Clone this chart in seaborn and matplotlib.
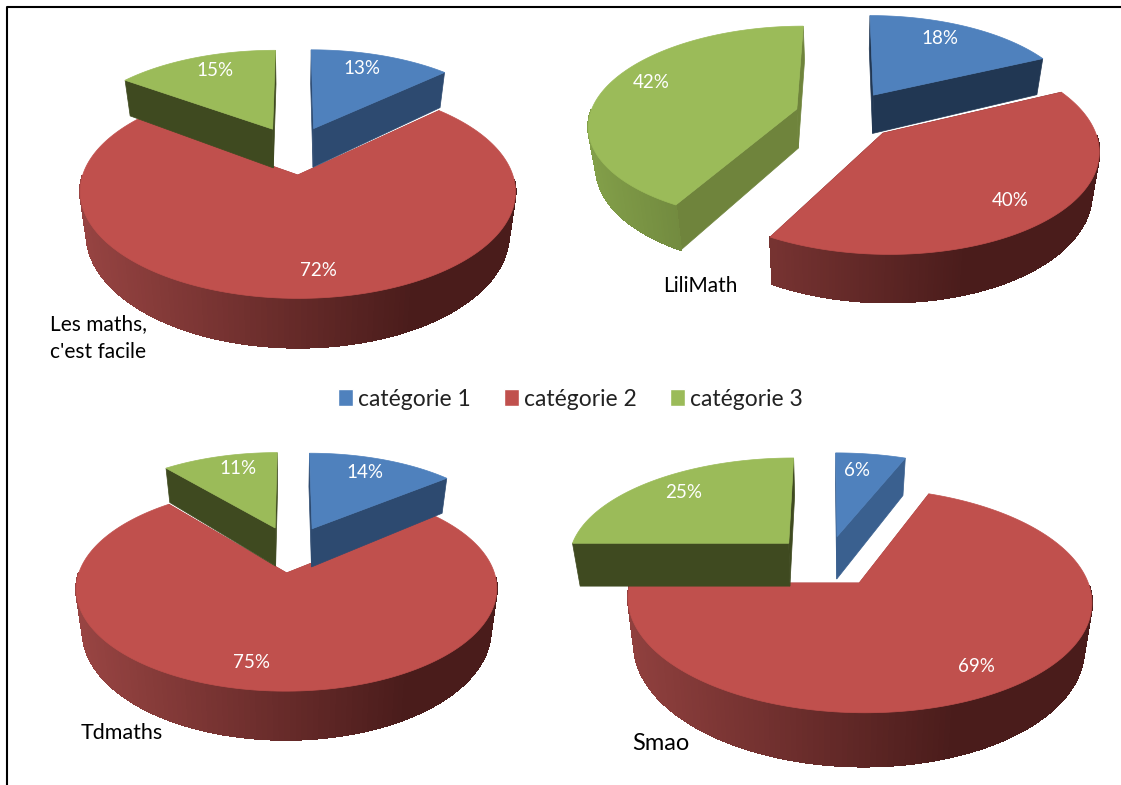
import matplotlib
matplotlib.use('Agg')
import matplotlib.pyplot as plt
from matplotlib.patches import Patch
from matplotlib.colors import to_rgb
import seaborn as sns
import numpy as np

categories = ['catégorie 1', 'catégorie 2', 'catégorie 3']
lesmaths = [13, 72, 15]
lilimath = [18, 40, 42]
tdmaths = [14, 75, 11]
smao = [6, 69, 25]

sns.set_theme(style='white')
plt.rcParams['font.family'] = ['Lato', 'DejaVu Sans']

colors = sns.color_palette(['#4f81bd', '#c0504d', '#9bbb59'])
rim_light = ['#5a86bd', '#a34a48', '#84a14a']
rim_dark = ['#223a58', '#4a1c1b', '#3f4a20']


def project(u, v, z, p):
    s = 1 / (1 - p['k'] * v)
    # the underside is a bit narrower than the top
    return p['cx'] + p['A'] * u * s * (1 - 0.03 * z), p['cy'] + p['B'] * v * s + p['h'] * z * s


def draw_pie(ax, values, p, wall_colors):
    frac = np.cumsum([0] + values) / sum(values) * 2 * np.pi
    mids = (frac[:-1] + frac[1:]) / 2
    # far slices first, so the near ones paint over them
    order = np.argsort(-np.cos(mids))[::-1]
    xl, xr = p['cx'] - p['A'] * 1.3, p['cx'] + p['A'] * 1.3
    for i in order:
        a0, a1, mid = frac[i], frac[i + 1], mids[i]
        du, dv = p['ex'] * np.sin(mid), -p['ey'] * np.cos(mid)
        th = np.linspace(a0, a1, 200)
        u = np.sin(th) + du
        v = -np.cos(th) + dv
        x0, y0 = project(u, v, 0, p)
        x1, y1 = project(u, v, 1, p)
        ax_, ay_ = project(du, dv, 0, p)
        bx_, by_ = project(du, dv, 1, p)
        # cut walls
        for k in [0, -1]:
            ax.fill([ax_, x0[k], x1[k], bx_], [ay_, y0[k], y1[k], by_],
                    color=wall_colors[i], lw=0.5, zorder=p['z'] + 1)
        # rim, front part only, shaded left to right
        light = np.array(to_rgb(rim_light[i]))
        dark = np.array(to_rgb(rim_dark[i]))
        for j in range(len(th) - 1):
            if -np.cos(th[j]) < 0.02:
                continue
            t = min(((x0[j] + x0[j + 1]) / 2 - xl) / (xr - xl) / 0.72, 1)
            c = light + (dark - light) * max(t, 0)
            ax.fill([x0[j], x0[j + 1], x1[j + 1], x1[j]], [y0[j], y0[j + 1], y1[j + 1], y1[j]],
                    color=c, lw=0.8, antialiased=False, zorder=p['z'] + 1)
        # the top
        ax.fill(np.r_[ax_, x0], np.r_[ay_, y0], color=colors[i], lw=0.5, zorder=p['z'] + 1)
        p['z'] += 2


fig = plt.figure(figsize=(11.21, 7.85), dpi=100)
ax = fig.add_axes([0, 0, 1, 1])
ax.set_xlim(0, 1121)
ax.set_ylim(785, 0)
ax.axis('off')

ax.plot([7, 7, 1121], [785, 6.5, 6.5], color='black', lw=1.5)

pie1 = dict(cx=294.5, cy=150, A=207, B=96.5, ex=0.24, ey=0.25, k=0.15, h=40, z=2)
pie2 = dict(cx=846.5, cy=115, A=207, B=97, ex=0.25, ey=0.25, k=0.15, h=39.5, z=2)
pie3 = dict(cx=291.5, cy=549, A=200, B=92.5, ex=0.25, ey=0.25, k=0.15, h=39.5, z=2)
pie4 = dict(cx=827, cy=561, A=222, B=103, ex=0.25, ey=0.25, k=0.15, h=44, z=2)

dark_green = '#3f4a20'
draw_pie(ax, lesmaths, pie1, ['#2d4a70', '#a34a48', dark_green])
draw_pie(ax, lilimath, pie2, ['#213753', '#6e2c2b', '#6f843c'])
draw_pie(ax, tdmaths, pie3, ['#2d4a70', '#a34a48', dark_green])
draw_pie(ax, smao, pie4, ['#3a608f', '#a34a48', dark_green])

label_pos = [
    (lesmaths, [(362, 69), (318, 270), (215, 71)]),
    (lilimath, [(940, 39), (1010, 201), (651, 82)]),
    (tdmaths, [(365, 472), (252, 662), (238, 469)]),
    (smao, [(857, 471), (976, 667), (684, 493)]),
]
for vals, pos in label_pos:
    for v, (x, y) in zip(vals, pos):
        ax.text(x, y, f'{v}%', color='white', fontsize=13.5, ha='center', va='center', zorder=50)

names = [("Les maths,\nc'est facile", 50, 338, 15), ('LiliMath', 663, 286, 15), ('Tdmaths', 81, 733, 15.5),
         ('Smao', 632, 744, 17)]
for s, x, y, fs in names:
    ax.text(x, y, s, color='black', fontsize=fs, ha='left', va='center', linespacing=1.45, zorder=50)

handles = [Patch(facecolor=c, label=n) for c, n in zip(colors, categories)]
ax.legend(handles=handles, loc='center', bbox_to_anchor=(570.5 / 1121, 1 - 399 / 785), ncol=3, frameon=False,
          fontsize=16.5, handlelength=0.65, handleheight=0.75, handletextpad=0.22, columnspacing=1.44,
          labelcolor='#222222')

plt.savefig('out.png', dpi=100)
